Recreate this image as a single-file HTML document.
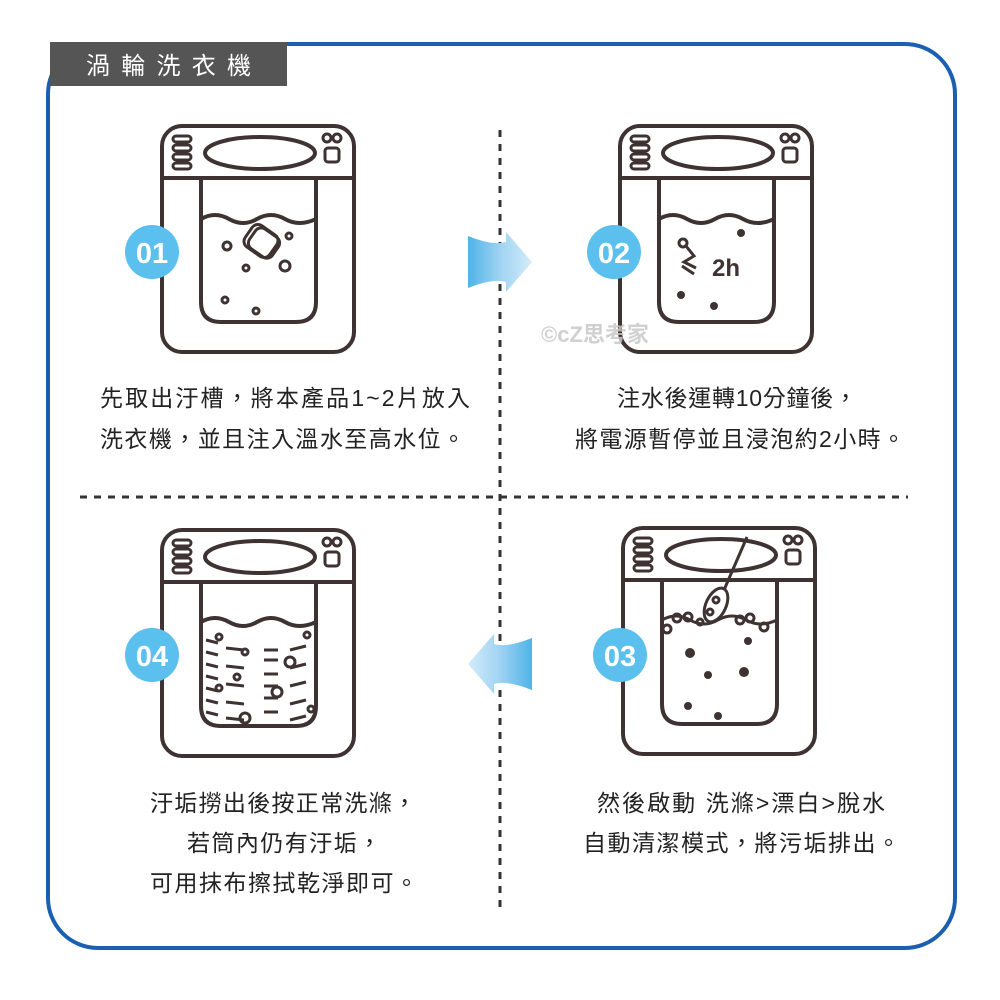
<!DOCTYPE html>
<html><head><meta charset="utf-8"><style>
body{margin:0;width:1000px;height:1000px;background:#fff;overflow:hidden}
svg{position:absolute;left:0;top:0}
.t{font-family:"Liberation Sans","Noto Sans CJK TC",sans-serif;font-size:23px;fill:#222}
</style></head><body>
<svg width="1000" height="1000" viewBox="0 0 1000 1000">
<defs>
<linearGradient id="ga" x1="0" y1="0" x2="1" y2="0"><stop offset="0" stop-color="#4fb3e8"/><stop offset="0.5" stop-color="#9fd3f2"/><stop offset="1" stop-color="#d4ecfa"/></linearGradient>
<linearGradient id="gb" x1="1" y1="0" x2="0" y2="0"><stop offset="0" stop-color="#4fb3e8"/><stop offset="0.5" stop-color="#9fd3f2"/><stop offset="1" stop-color="#d4ecfa"/></linearGradient>
<g id="m" fill="none" stroke="#3e3332" stroke-width="4">
<rect x="162" y="126" width="192" height="226" rx="20"/>
<line x1="162" y1="178" x2="354" y2="178"/>
<ellipse cx="260" cy="153" rx="55" ry="16"/>
<rect x="173" y="136" width="18" height="6" rx="3" stroke-width="3"/>
<rect x="173" y="145" width="18" height="6" rx="3" stroke-width="3"/>
<rect x="173" y="154" width="18" height="6" rx="3" stroke-width="3"/>
<rect x="173" y="163" width="18" height="6" rx="3" stroke-width="3"/>
<circle cx="327" cy="138" r="4" stroke-width="3"/><circle cx="337" cy="138" r="4" stroke-width="3"/>
<rect x="325" y="148" width="14" height="14" rx="3" stroke-width="3"/>
<path d="M201 178 V302 q0 20 20 20 H296 q20 0 20 -20 V178"/>
</g>
</defs>
<rect x="48" y="44" width="907" height="904" rx="50" fill="none" stroke="#1a5fb0" stroke-width="4"/>
<rect x="50" y="42" width="237" height="44" fill="#555"/>
<text x="86" y="74" font-family="Liberation Sans,Noto Sans CJK TC,sans-serif" font-size="24" fill="#fff" textLength="165" lengthAdjust="spacing">渦輪洗衣機</text>
<line x1="500" y1="130" x2="500" y2="912" stroke="#333" stroke-width="3" stroke-dasharray="7 7"/>
<line x1="80" y1="497" x2="908" y2="497" stroke="#333" stroke-width="3" stroke-dasharray="7 7"/>
<path d="M468 236 q25 10 38 6 l0 -10 l26 30 l-26 30 l0 -10 q-13 -4 -38 6 z" fill="url(#ga)"/>
<path d="M532 638 q-25 10 -38 6 l0 -10 l-26 30 l26 30 l0 -10 q13 -4 38 6 z" fill="url(#gb)"/>
<use href="#m"/>
<g fill="none" stroke="#3e3332" stroke-width="3">
<path d="M201 219 q14 -8 28 0 t28 0 t28 0 t31 0" stroke-width="4"/>
<rect x="246" y="228" width="30" height="26" rx="7" transform="rotate(35 261 241)"/>
<rect x="250" y="231" width="28" height="24" rx="7" transform="rotate(35 264 243)"/>
<circle cx="227" cy="246" r="4"/><circle cx="289" cy="236" r="3"/><circle cx="246" cy="268" r="3"/><circle cx="285" cy="266" r="5"/><circle cx="225" cy="300" r="3"/><circle cx="256" cy="311" r="3"/>
</g>
<circle cx="152" cy="252" r="27" fill="#5cc0ef"/>
<text x="152" y="263" text-anchor="middle" font-family="Liberation Sans,sans-serif" font-weight="bold" font-size="29" fill="#fff">01</text>
<use href="#m" transform="translate(458 0)"/>
<g fill="none" stroke="#3e3332" stroke-width="3">
<path d="M659 219 q14 -8 28 0 t28 0 t28 0 t31 0" stroke-width="4"/>
<circle cx="683" cy="243" r="4"/><path d="M686 246 l8 10 l-10 6 l12 6"/><path d="M682 266 l12 8"/>
</g>
<text x="712" y="276" font-family="Liberation Sans,sans-serif" font-weight="bold" font-size="24" fill="#3e3332">2h</text>
<g fill="#3e3332"><circle cx="741" cy="233" r="4"/><circle cx="681" cy="295" r="4"/><circle cx="714" cy="306" r="4"/></g>
<circle cx="614" cy="252" r="27" fill="#5cc0ef"/>
<text x="614" y="263" text-anchor="middle" font-family="Liberation Sans,sans-serif" font-weight="bold" font-size="29" fill="#fff">02</text>
<text x="541" y="342" font-family="Liberation Sans,Noto Sans CJK TC,sans-serif" font-weight="bold" font-size="22" fill="#c8c8c8" opacity="0.85">©cZ思考家</text>
<use href="#m" transform="translate(0 404)"/>
<g fill="none" stroke="#3e3332" stroke-width="3">
<path d="M201 622 q14 -8 28 0 t28 0 t28 0 t31 0" stroke-width="4"/>
<path d="M206 640 l12 3 M206 652 l12 3 M206 664 l12 3 M206 676 l12 3 M206 688 l12 3 M206 700 l12 3 M206 712 l12 3 M226 648 l18 2 M226 666 l18 2 M226 684 l18 2 M226 702 l18 2 M226 718 l18 2 M264 650 h14 M264 660 h14 M264 674 h14 M264 686 h14 M264 698 h14 M264 712 h14 M290 650 l16 -4 M290 668 l16 -4 M290 686 l16 -4 M290 704 l16 -4 M290 720 l16 -4"/>
<circle cx="219" cy="637" r="3"/><circle cx="245" cy="652" r="3"/><circle cx="237" cy="677" r="3"/><circle cx="219" cy="688" r="3"/><circle cx="290" cy="662" r="5"/><circle cx="277" cy="692" r="5"/><circle cx="245" cy="718" r="5"/><circle cx="307" cy="635" r="3"/><circle cx="311" cy="709" r="3"/>
</g>
<circle cx="152" cy="655" r="27" fill="#5cc0ef"/>
<text x="152" y="666" text-anchor="middle" font-family="Liberation Sans,sans-serif" font-weight="bold" font-size="29" fill="#fff">04</text>
<use href="#m" transform="translate(461 402)"/>
<g fill="none" stroke="#3e3332" stroke-width="3">
<path d="M662 620 q14 -8 28 0 t28 0 t28 0 t31 0" stroke-width="3"/>
<line x1="747" y1="537" x2="724" y2="590"/>
<ellipse cx="716" cy="605" rx="10" ry="18" transform="rotate(25 716 605)"/>
<circle cx="667" cy="629" r="4"/><circle cx="677" cy="618" r="4"/><circle cx="688" cy="617" r="4"/><circle cx="700" cy="622" r="3"/><circle cx="740" cy="620" r="4"/><circle cx="750" cy="618" r="4"/><circle cx="764" cy="627" r="4"/><circle cx="716" cy="600" r="3"/><circle cx="710" cy="612" r="3"/>
</g>
<g fill="#3e3332"><circle cx="690" cy="653" r="5"/><circle cx="748" cy="641" r="4"/><circle cx="708" cy="675" r="4"/><circle cx="744" cy="672" r="5"/><circle cx="688" cy="706" r="4"/><circle cx="718" cy="716" r="4"/></g>
<circle cx="620" cy="655" r="27" fill="#5cc0ef"/>
<text x="620" y="666" text-anchor="middle" font-family="Liberation Sans,sans-serif" font-weight="bold" font-size="29" fill="#fff">03</text>
<text class="t" x="100" y="406" textLength="370" lengthAdjust="spacing">先取出汙槽，將本產品1~2片放入</text>
<text class="t" x="100" y="447" textLength="365" lengthAdjust="spacing">洗衣機，並且注入溫水至高水位。</text>
<text class="t" x="617" y="406" textLength="240" lengthAdjust="spacing">注水後運轉10分鐘後，</text>
<text class="t" x="575" y="447" textLength="330" lengthAdjust="spacing">將電源暫停並且浸泡約2小時。</text>
<text class="t" x="150" y="811" textLength="266" lengthAdjust="spacing">汙垢撈出後按正常洗滌，</text>
<text class="t" x="187" y="851" textLength="194" lengthAdjust="spacing">若筒內仍有汙垢，</text>
<text class="t" x="150" y="891" textLength="268" lengthAdjust="spacing">可用抹布擦拭乾淨即可。</text>
<text class="t" x="597" y="811" textLength="288" lengthAdjust="spacing">然後啟動 洗滌&gt;漂白&gt;脫水</text>
<text class="t" x="583" y="851" textLength="317" lengthAdjust="spacing">自動清潔模式，將污垢排出。</text>
</svg>
</body></html>
